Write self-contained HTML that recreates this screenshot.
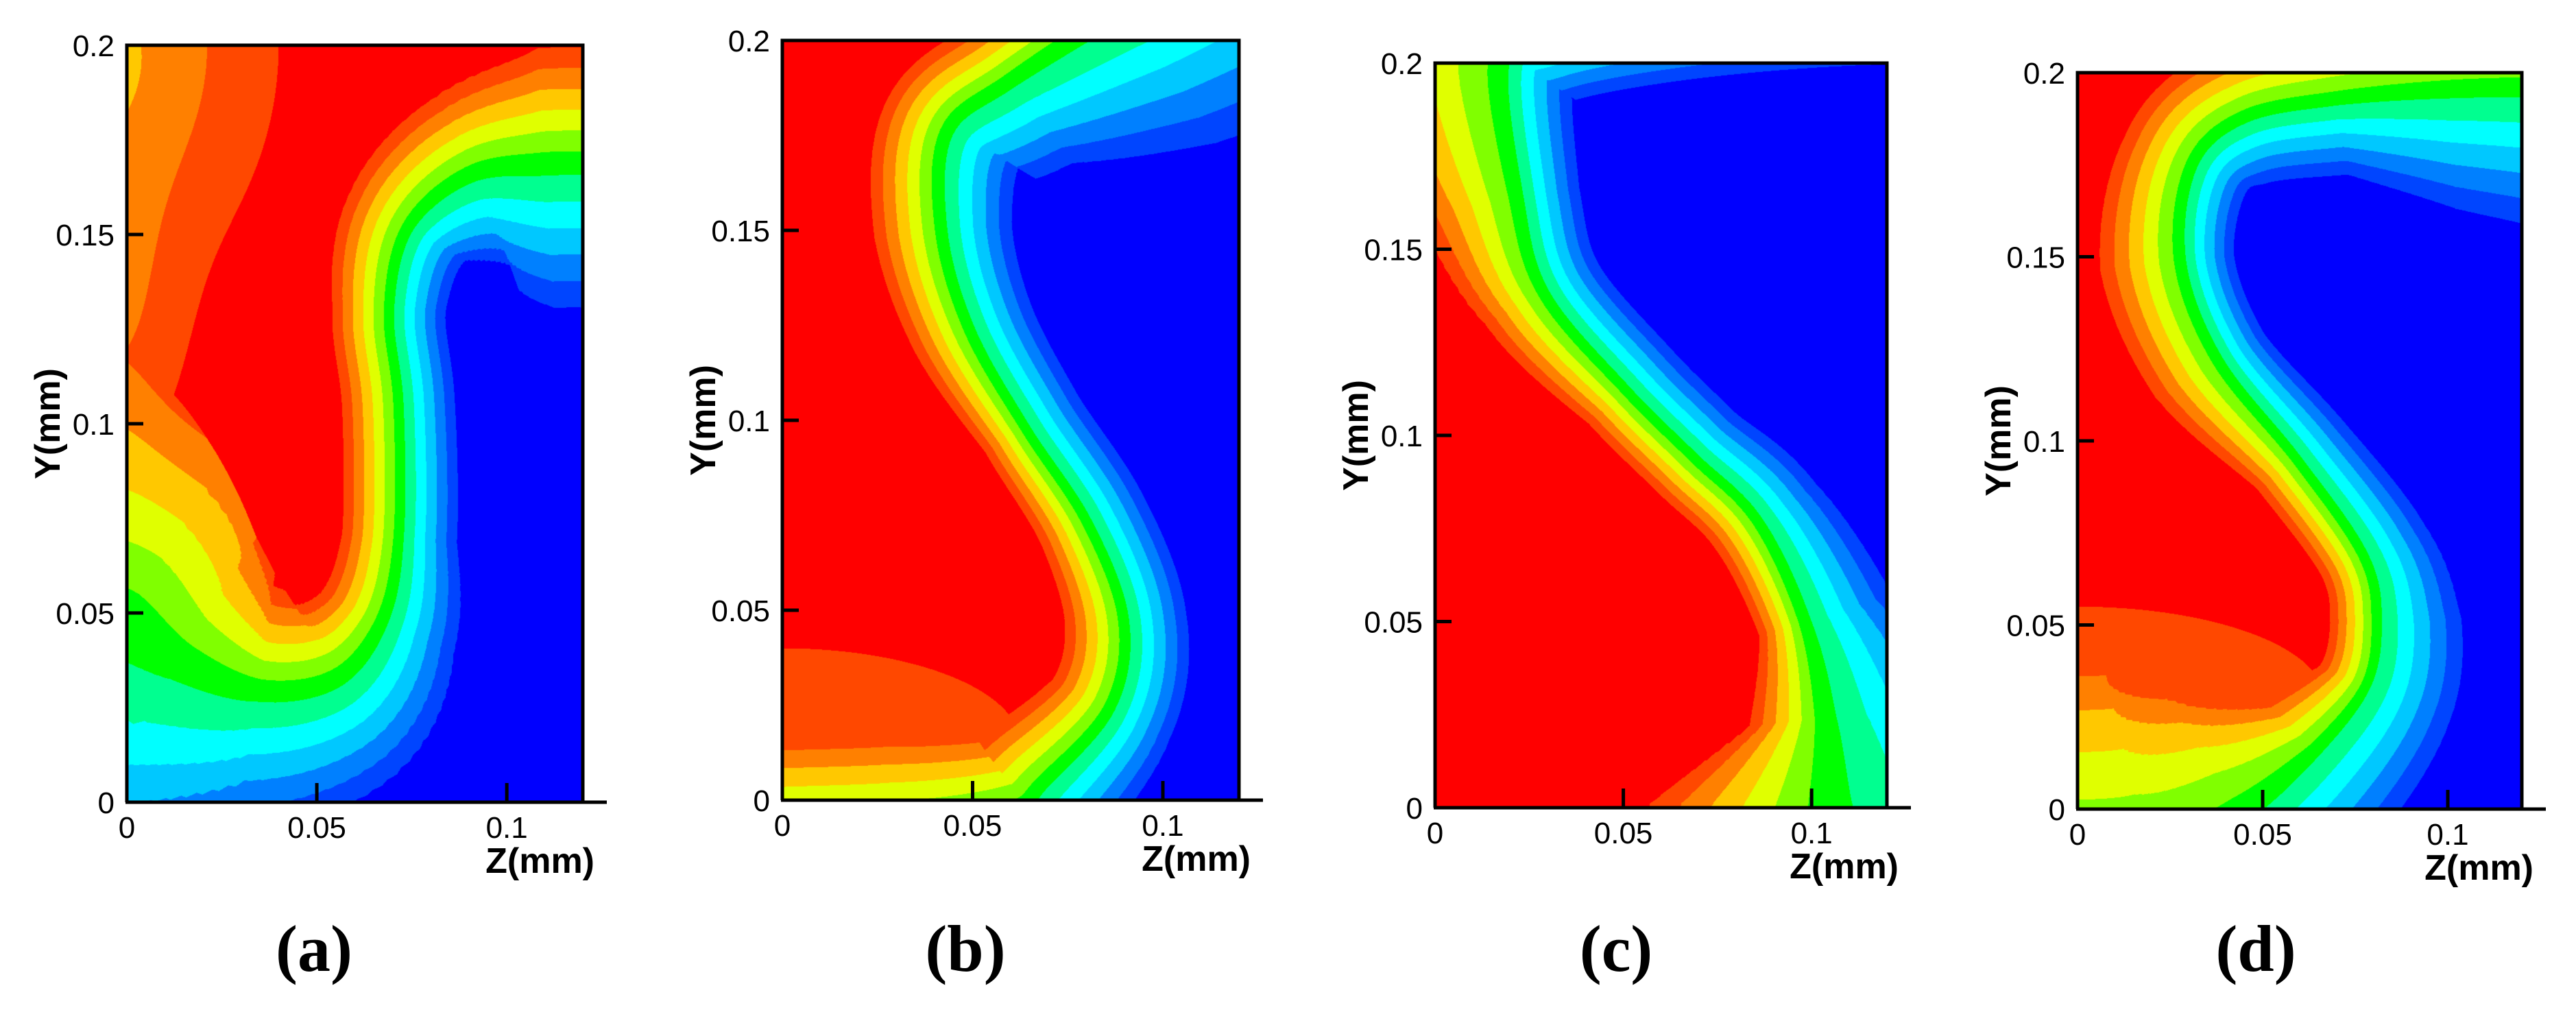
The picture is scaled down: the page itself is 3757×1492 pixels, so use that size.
<!DOCTYPE html>
<html><head><meta charset="utf-8">
<style>
html,body{margin:0;padding:0;background:#fff;}
#wrap{position:relative;width:3757px;height:1492px;overflow:hidden;background:#fff;}
canvas{position:absolute;}
svg{position:absolute;left:0;top:0;}
</style></head>
<body>
<div id="wrap">
<canvas id="ca"></canvas>
<canvas id="cb"></canvas>
<canvas id="cc"></canvas>
<canvas id="cd"></canvas>
<svg id="ov" width="3757" height="1492"></svg>
</div>
<script>
// colour levels (0 = blue ... 12 = red)
const levelColors = ["#0000ff","#0045ff","#0080ff","#00c8ff","#00ffff","#00ff90","#00ff00","#80ff00","#e0ff00","#ffc800","#ff8000","#ff4800","#ff0000"];
const zTicks = [0, 0.05, 0.1];
const zTickLabels = ["0", "0.05", "0.1"];
const yTicks = [0, 0.05, 0.1, 0.15, 0.2];
const yTickLabels = ["0", "0.05", "0.1", "0.15", "0.2"];

// Panel (a) interface centreline (green level) and band widths
const aZ  = [-0.01, 0.0, 0.015, 0.035, 0.055, 0.067, 0.0715, 0.0715, 0.069, 0.074, 0.09, 0.11, 0.13];
const aY  = [0.052, 0.05, 0.038, 0.03, 0.033, 0.048, 0.07, 0.105, 0.13, 0.152, 0.166, 0.169, 0.169];
const aWN = [0.03, 0.028, 0.013, 0.007, 0.0055, 0.0038, 0.0028, 0.0027, 0.0027, 0.0032, 0.005, 0.007, 0.007];
const aWP = [0.011, 0.011, 0.008, 0.005, 0.0045, 0.0032, 0.0027, 0.0027, 0.0027, 0.0032, 0.004, 0.0055, 0.0055];
const aBZ = [-0.005, -0.005];
const aBY = [0.2, 0.13];
const aBRZ = [0.035, 0.018];
const aBRY = [0.05, 0.04];
const aBA = [2.6, 1.5];

// Panel (b)
const bZ  = [-0.01, 0.03, 0.06, 0.0696, 0.0866, 0.0899, 0.080, 0.0636, 0.049, 0.0417, 0.043, 0.06, 0.09, 0.13];
const bY  = [-0.012, -0.01, -0.004, 0.004, 0.024, 0.047, 0.073, 0.098, 0.124, 0.15, 0.176, 0.19, 0.21, 0.235];
const bWN = [0.005, 0.005, 0.0045, 0.004, 0.0032, 0.003, 0.003, 0.003, 0.0032, 0.0034, 0.004, 0.005, 0.008, 0.01];
const bWP = [0.0045, 0.0045, 0.004, 0.0035, 0.003, 0.0028, 0.0024, 0.0022, 0.0028, 0.0032, 0.0032, 0.0032, 0.0032, 0.0032];
const bBZ = [0.0];
const bBY = [0.015];
const bBRZ = [0.075];
const bBRY = [0.03];
const bBA = [1.0];

// Panel (c)
const cZ  = [0.104, 0.1035, 0.1026, 0.0976, 0.0853, 0.0685, 0.0506, 0.029, 0.022, 0.018, 0.03, 0.06, 0.1, 0.15];
const cY  = [-0.01, 0.0, 0.024, 0.05, 0.077, 0.094, 0.112, 0.138, 0.164, 0.2, 0.208, 0.214, 0.218, 0.22];
const cWN = [0.016, 0.015, 0.008, 0.0045, 0.0034, 0.003, 0.003, 0.003, 0.003, 0.0035, 0.0035, 0.0035, 0.0035, 0.0035];
const cWP = [0.010, 0.009, 0.0035, 0.0022, 0.0024, 0.0024, 0.0024, 0.0032, 0.005, 0.008, 0.008, 0.008, 0.008, 0.008];
const cBZ = [];
const cBY = [];
const cBRZ = [];
const cBRY = [];
const cBA = [];

// Panel (d)
const dZ  = [-0.01, 0.02, 0.045, 0.065, 0.0785, 0.081, 0.077, 0.059, 0.038, 0.028, 0.031, 0.045, 0.07, 0.1, 0.13];
const dY  = [-0.016, -0.014, -0.002, 0.015, 0.033, 0.051, 0.069, 0.095, 0.122, 0.149, 0.175, 0.188, 0.193, 0.196, 0.197];
const dWN = [0.006, 0.006, 0.0055, 0.005, 0.0045, 0.0042, 0.0034, 0.003, 0.0026, 0.0026, 0.003, 0.0035, 0.0038, 0.006, 0.0075];
const dWP = [0.0095, 0.0095, 0.007, 0.0035, 0.0024, 0.0022, 0.0022, 0.0024, 0.0036, 0.004, 0.0036, 0.0036, 0.004, 0.004, 0.004];
const dBZ = [0.0];
const dBY = [0.03];
const dBRZ = [0.08];
const dBRY = [0.03];
const dBA = [1.0];

const ZMAX = 0.12, YMAX = 0.2;
const panels = [
  {key:"a", cv:"ca", L:185, R:850, T:66, B:1170, lx:458, Z:aZ, Y:aY, WN:aWN, WP:aWP, BZ:aBZ, BY:aBY, BRZ:aBRZ, BRY:aBRY, BA:aBA},
  {key:"b", cv:"cb", L:1141, R:1807, T:59, B:1167, lx:1408, Z:bZ, Y:bY, WN:bWN, WP:bWP, BZ:bBZ, BY:bBY, BRZ:bBRZ, BRY:bBRY, BA:bBA},
  {key:"c", cv:"cc", L:2093, R:2752, T:92, B:1178, lx:2357, Z:cZ, Y:cY, WN:cWN, WP:cWP, BZ:cBZ, BY:cBY, BRZ:cBRZ, BRY:cBRY, BA:cBA},
  {key:"d", cv:"cd", L:3030, R:3678, T:106, B:1180, lx:3290, Z:dZ, Y:dY, WN:dWN, WP:dWP, BZ:dBZ, BY:dBY, BRZ:dBRZ, BRY:dBRY, BA:dBA}
];

function hexToRgb(h){return [parseInt(h.substr(1,2),16),parseInt(h.substr(3,2),16),parseInt(h.substr(5,2),16)];}
const rgb = levelColors.map(hexToRgb);

function densify(Z, Y, WN, WP){
  const n = Z.length, S = 10;
  const oz=[], oy=[], own=[], owp=[];
  const g = function(A,i){return A[Math.max(0,Math.min(n-1,i))];};
  for (let i=0;i<n-1;i++){
    for (let s=0;s<S;s++){
      const t=s/S, t2=t*t, t3=t2*t;
      const cr = function(A){
        const p0=g(A,i-1),p1=g(A,i),p2=g(A,i+1),p3=g(A,i+2);
        return 0.5*((2*p1)+(-p0+p2)*t+(2*p0-5*p1+4*p2-p3)*t2+(-p0+3*p1-3*p2+p3)*t3);
      };
      oz.push(cr(Z)); oy.push(cr(Y));
      own.push(WN[i]+(WN[i+1]-WN[i])*t); owp.push(WP[i]+(WP[i+1]-WP[i])*t);
    }
  }
  oz.push(Z[n-1]); oy.push(Y[n-1]); own.push(WN[n-1]); owp.push(WP[n-1]);
  return {Z:oz, Y:oy, WN:own, WP:owp};
}

function renderPanel(p){
  const cv = document.getElementById(p.cv);
  const W = p.R - p.L, H = p.B - p.T;
  cv.width = W; cv.height = H;
  cv.style.left = p.L + "px"; cv.style.top = p.T + "px";
  const ctx = cv.getContext("2d");
  const img = ctx.createImageData(W, H);
  const c = densify(p.Z, p.Y, p.WN, p.WP);
  const n = c.Z.length;
  const dx = [], dy = [], len2 = [], ux = [], uy = [];
  for (let i=0;i<n-1;i++){
    const ex = c.Z[i+1]-c.Z[i], ey = c.Y[i+1]-c.Y[i];
    dx.push(ex); dy.push(ey); len2.push(ex*ex+ey*ey+1e-18);
    const l = Math.sqrt(ex*ex+ey*ey)+1e-12; ux.push(ex/l); uy.push(ey/l);
  }
  for (let py=0; py<H; py++){
    const y = YMAX*(1-(py+0.5)/H);
    for (let px=0; px<W; px++){
      const z = ZMAX*(px+0.5)/W;
      let best = 1e9, bi = 0, bt = 0;
      for (let i=0;i<n-1;i++){
        let t = ((z-c.Z[i])*dx[i] + (y-c.Y[i])*dy[i]) / len2[i];
        if (t<0) t=0; else if (t>1) t=1;
        const qx = c.Z[i]+t*dx[i]-z, qy = c.Y[i]+t*dy[i]-y;
        const d2 = qx*qx+qy*qy;
        if (d2<best){best=d2; bi=i; bt=t;}
      }
      let vx = ux[bi], vy = uy[bi];
      if (bt===0 && bi>0){vx+=ux[bi-1]; vy+=uy[bi-1];}
      else if (bt===1 && bi<n-2){vx+=ux[bi+1]; vy+=uy[bi+1];}
      const nx = c.Z[bi]+bt*dx[bi], ny = c.Y[bi]+bt*dy[bi];
      const cr = vx*(y-ny) - vy*(z-nx);
      const dist = Math.sqrt(best);
      let v;
      if (cr>=0){
        const w = c.WP[bi]+(c.WP[bi+1]-c.WP[bi])*bt;
        v = 6 + dist/w;
      } else {
        const w = c.WN[bi]+(c.WN[bi+1]-c.WN[bi])*bt;
        v = 6 - dist/w;
      }
      if (v>12) v=12; if (v<0) v=0;
      for (let k=0;k<p.BZ.length;k++){
        const rz = (z-p.BZ[k])/p.BRZ[k], ry = (y-p.BY[k])/p.BRY[k];
        v -= p.BA[k]*Math.exp(-(rz*rz+ry*ry));
      }
      let lv = Math.round(v); if (lv<0) lv=0; if (lv>12) lv=12;
      const col = rgb[lv], o = (py*W+px)*4;
      img.data[o]=col[0]; img.data[o+1]=col[1]; img.data[o+2]=col[2]; img.data[o+3]=255;
    }
  }
  ctx.putImageData(img,0,0);
}

const NS = "http://www.w3.org/2000/svg";
const ov = document.getElementById("ov");
function mk(tag, attrs, parent){
  const e = document.createElementNS(NS, tag);
  for (const k in attrs) e.setAttribute(k, attrs[k]);
  (parent||ov).appendChild(e);
  return e;
}

panels.forEach(function(p){
  renderPanel(p);
  const W = p.R-p.L, H = p.B-p.T;
  const sx = function(z){return p.L + z/ZMAX*W;};
  const sy = function(y){return p.B - y/YMAX*H;};
  const g = mk("g", {});
  
  
  const fr = mk("path", {d:"M"+p.L+","+p.B+" L"+p.L+","+p.T+" L"+p.R+","+p.T+" L"+p.R+","+p.B, fill:"none", stroke:"#000", "stroke-width":5}, g);
  
  
  const xa = mk("line", {x1:p.L-2, y1:p.B, x2:p.R+35, y2:p.B, stroke:"#000", "stroke-width":5}, g);
  
  
  yTicks.forEach(function(t,i){
    const yy = sy(t);
    if (t>0 && t<YMAX){
      const tk = mk("line", {x1:p.L, y1:yy, x2:p.L+24, y2:yy, stroke:"#000", "stroke-width":5}, g);
      
      
    }
    const tl = mk("text", {x:p.L-18, y:yy+16, "text-anchor":"end", "font-family":"Liberation Sans, Arial, sans-serif", "font-size":44, fill:"#000"}, g);
    tl.textContent = yTickLabels[i];
    
    
  });
  zTicks.forEach(function(t,i){
    const xx = sx(t);
    if (t>0){
      const tk = mk("line", {x1:xx, y1:p.B, x2:xx, y2:p.B-28, stroke:"#000", "stroke-width":5}, g);
      
      
    }
    const tl = mk("text", {x:xx, y:p.B+52, "text-anchor":"middle", "font-family":"Liberation Sans, Arial, sans-serif", "font-size":44, fill:"#000"}, g);
    tl.textContent = zTickLabels[i];
    
    
  });
  const xt = mk("text", {x:p.R+17, y:p.B+103, "text-anchor":"end", "font-family":"Liberation Sans, Arial, sans-serif", "font-size":52, "font-weight":"bold", fill:"#000"}, g);
  xt.textContent = "Z(mm)";
  
  
  const cy = (p.T+p.B)/2, cx = p.L-115;
  const yt = mk("text", {x:cx, y:cy, "text-anchor":"middle", "dominant-baseline":"central", transform:"rotate(-90 "+cx+" "+cy+")", "font-family":"Liberation Sans, Arial, sans-serif", "font-size":52, "font-weight":"bold", fill:"#000"}, g);
  yt.textContent = "Y(mm)";
  
  
  const pl = mk("text", {x:p.lx, y:1416, "text-anchor":"middle", "font-family":"Liberation Serif, Times New Roman, serif", "font-size":96, "font-weight":"bold", fill:"#000"}, g);
  pl.textContent = "(" + p.key + ")";
  
  
});
</script>
</body></html>
